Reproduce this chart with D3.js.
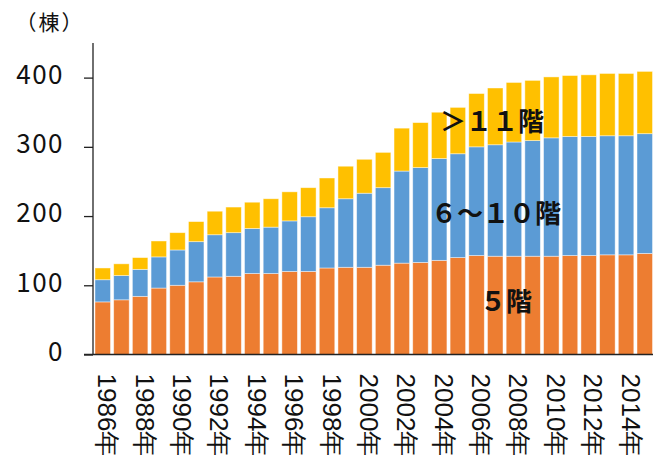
<!DOCTYPE html>
<html>
<head>
<meta charset="utf-8">
<script src="https://cdn.jsdelivr.net/npm/d3@7"></script>
<style>
  html, body { margin: 0; padding: 0; background: #fff; }
  svg { display: block; font-family: "Noto Sans CJK JP", "Noto Sans", sans-serif; }
</style>
</head>
<body>
<svg id="chart" width="653" height="455"></svg>
<script>
const years = [1986,1987,1988,1989,1990,1991,1992,1993,1994,1995,1996,1997,1998,1999,2000,
               2001,2002,2003,2004,2005,2006,2007,2008,2009,2010,2011,2012,2013,2014,2015];
const floors5 = [76,79,84,96,100,105,112,113,117,117,120,120,125,126,126,
                 129,132,133,136,140,143,142,142,142,142,143,143,144,144,146];
const floors6to10 = [32,35,39,45,51,58,61,63,65,67,73,79,87,99,107,
                     112,133,137,147,150,157,161,165,167,171,172,172,172,172,173];
const floors11plus = [17,17,17,23,25,29,34,37,38,41,42,42,43,47,49,
                      51,62,65,67,67,77,82,86,87,88,88,89,90,90,90];
const seriesNames = ["５階", "６～１０階", "＞１１階"];
const seriesColors = ["#ED7D31", "#5B9BD5", "#FFC000"];
const yTicks = [0, 100, 200, 300, 400];
const xTickYears = [1986,1988,1990,1992,1994,1996,1998,2000,2002,2004,2006,2008,2010,2012,2014];
const yUnit = "（棟）";

const rows = years.map((y, i) => ({ year: y, s0: floors5[i], s1: floors6to10[i], s2: floors11plus[i] }));
const stack = d3.stack().keys(["s0", "s1", "s2"])(rows);

const svg = d3.select("#chart");
const x = d3.scaleBand().domain(years).range([93.4, 654.1]).paddingInner(0.17).paddingOuter(0.085);
const y = d3.scaleLinear().domain([0, 450]).range([354.5, 43]);

// bars
svg.append("g").selectAll("g").data(stack).join("g")
  .attr("fill", (d, i) => seriesColors[i])
  .selectAll("rect").data(d => d).join("rect")
  .attr("x", d => x(d.data.year))
  .attr("width", x.bandwidth())
  .attr("y", d => y(d[1]))
  .attr("height", d => y(d[0]) - y(d[1]))
  .attr("stroke", "rgba(255,255,255,0.55)")
  .attr("stroke-width", 0.8);

// y axis
const yAxis = svg.append("g").attr("transform", "translate(93,0)")
  .call(d3.axisLeft(y).tickValues(yTicks).tickSize(9).tickSizeOuter(0).tickPadding(20));
yAxis.select(".domain").remove();
yAxis.append("line").attr("x1", 0).attr("x2", 0).attr("y1", 43).attr("y2", 355)
  .attr("stroke", "#222").attr("stroke-width", 1.3);
yAxis.selectAll(".tick line").attr("stroke", "#222").attr("stroke-width", 1.3);
yAxis.selectAll(".tick text").attr("font-size", 26).attr("fill", "#111")
  .attr("dy", "0.22em").attr("letter-spacing", "1.5px")
  .style("font-family", "'Noto Sans CJK JP', sans-serif");

// x axis
const xAxis = svg.append("g").attr("transform", "translate(0,354.5)")
  .call(d3.axisBottom(x).tickValues(xTickYears).tickSize(0).tickFormat(d => d + "年"));
xAxis.select(".domain").remove();
xAxis.append("line").attr("x1", 84).attr("x2", 653).attr("y1", 0).attr("y2", 0)
  .attr("stroke", "#222").attr("stroke-width", 1.3);
xAxis.selectAll(".tick text")
  .attr("transform", "rotate(90)")
  .attr("text-anchor", "start")
  .attr("x", 19).attr("y", 4.5).attr("dy", "0")
  .attr("font-size", 26).attr("fill", "#111");

// unit label
svg.append("text").attr("x", 50).attr("y", 30).attr("text-anchor", "middle")
  .attr("font-size", 21).attr("letter-spacing", "2px").attr("fill", "#111").text(yUnit);

// series labels
const labelPos = [
  { name: seriesNames[0], x: 506, y: 311 },
  { name: seriesNames[1], x: 496, y: 223 },
  { name: seriesNames[2], x: 492, y: 131 }
];
svg.append("g").selectAll("text").data(labelPos).join("text")
  .attr("x", d => d.x).attr("y", d => d.y)
  .attr("text-anchor", "middle").attr("font-size", 26).attr("font-weight", 700)
  .attr("fill", "#111").text(d => d.name);
</script>
</body>
</html>
